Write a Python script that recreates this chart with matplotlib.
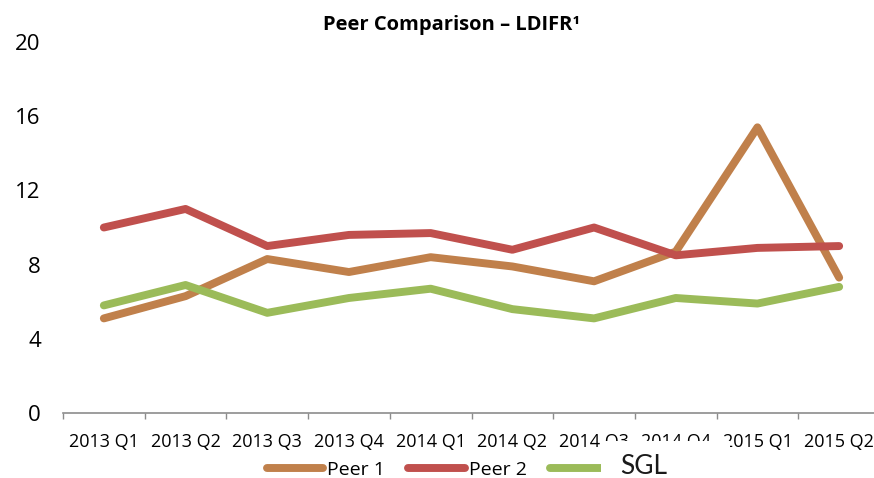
import numpy as np
import matplotlib
matplotlib.use('Agg')
import matplotlib.pyplot as plt
from matplotlib.patches import Rectangle

# Data
quarters = ['2013 Q1', '2013 Q2', '2013 Q3', '2013 Q4', '2014 Q1',
            '2014 Q2', '2014 Q3', '2014 Q4', '2015 Q1', '2015 Q2']
peer1 = [5.1, 6.3, 8.3, 7.6, 8.4, 7.9, 7.1, 8.7, 15.4, 7.3]
peer2 = [10.0, 11.0, 9.0, 9.6, 9.7, 8.8, 10.0, 8.5, 8.9, 9.0]
sgl = [5.8, 6.9, 5.4, 6.2, 6.7, 5.6, 5.1, 6.2, 5.9, 6.8]
y_ticks = [0, 4, 8, 12, 16, 20]

plt.rcParams['font.family'] = ['Open Sans', 'DejaVu Sans']

fig = plt.figure(figsize=(8.74, 4.78), dpi=100)
ax = fig.add_axes([63 / 874, 65 / 478, 817 / 874, 371 / 478])

x = np.arange(len(quarters))
lw = 5.7
h1, = ax.plot(x, peer1, color='#C0804B', linewidth=lw, solid_capstyle='round', solid_joinstyle='round', label='Peer 1')
h2, = ax.plot(x, peer2, color='#C0504D', linewidth=lw, solid_capstyle='round', solid_joinstyle='round', label='Peer 2')
h3, = ax.plot(x, sgl, color='#9BBB59', linewidth=lw, solid_capstyle='round', solid_joinstyle='round', label='SGL')

ax.set_xlim(-0.5, len(quarters) - 0.5)
ax.set_ylim(0, 20)

# tick marks between categories, labels centred on categories
ax.set_xticks(np.arange(-0.5, len(quarters), 1.0))
ax.set_xticklabels([])
ax.set_xticks(x, minor=True)
ax.set_xticklabels(quarters, minor=True, fontsize=13)
ax.tick_params(axis='x', which='major', length=4.5, width=1, color='#8c8c8c', direction='out')
ax.tick_params(axis='x', which='minor', length=0, pad=14.5)

ax.set_yticks(y_ticks)
ax.set_yticklabels([str(v) for v in y_ticks], fontsize=16)
ax.tick_params(axis='y', length=0, pad=16)

for s in ['top', 'right', 'left']:
    ax.spines[s].set_visible(False)
ax.spines['bottom'].set_color('#8c8c8c')
ax.spines['bottom'].set_linewidth(1.2)

fig.text(0.517, 0.948, 'Peer Comparison \u2013 LDIFR\u00b9', ha='center', va='center',
         fontsize=14.5, fontweight='bold')

# the SGL entry's label sits in its own text box in the original
leg = fig.legend([h1, h2, h3], ['Peer 1', 'Peer 2', ''], loc='center left',
                 bbox_to_anchor=(267 / 874, 8 / 478), ncol=3,
                 frameon=False, fontsize=14, handlelength=2.9, handletextpad=0.2,
                 columnspacing=1.2, borderpad=0, borderaxespad=0)
leg.set_zorder(4)

fig.patches.append(Rectangle((601 / 874, 0), 129 / 874, 37 / 478, transform=fig.transFigure,
                             facecolor='white', edgecolor='none', zorder=6))
fig.text(620 / 874, 12 / 478, 'SGL', ha='left', va='center', fontsize=19,
         family=['Lato', 'DejaVu Sans'], color='#1a1a1a', zorder=7)

fig.savefig('out.png', dpi=100)
